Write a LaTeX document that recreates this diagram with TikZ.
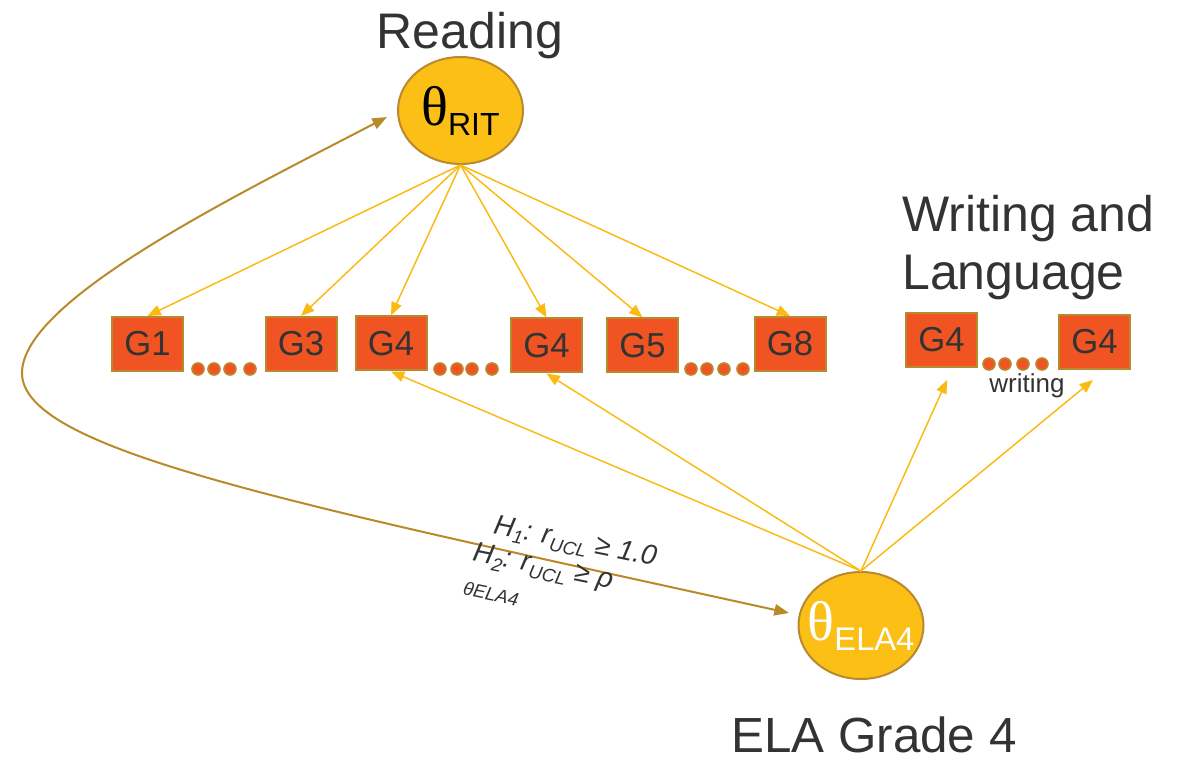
\documentclass[tikz,border=0pt]{standalone}
\usepackage{fontspec}
\setmainfont{Liberation Sans}
\newfontfamily\serf{Liberation Serif}
\usetikzlibrary{arrows.meta,shapes.geometric}
\definecolor{gold}{HTML}{FBBF16}
\definecolor{goldedge}{HTML}{B8892F}
\definecolor{boxfill}{HTML}{F05423}
\definecolor{txt}{HTML}{333333}
\definecolor{arrowyel}{HTML}{FBBA12}
\definecolor{curvecol}{HTML}{B88A2A}
\begin{document}
\begin{tikzpicture}[x=0.75pt,y=-0.75pt,
 latent/.style={ellipse, draw=goldedge, line width=1.5pt, fill=gold, minimum width=93.75pt, minimum height=80.25pt, inner sep=-9pt},
 gbox/.style={rectangle, draw=goldedge, line width=1.5pt, fill=boxfill, minimum width=53.25pt, minimum height=40.5pt, inner sep=0pt, font=\fontsize{26}{26}\selectfont, text=txt},
 yarrow/.style={draw=arrowyel, line width=1.1pt, -{Triangle[length=10pt,width=8pt]}},
 carrow/.style={draw=curvecol, line width=1.5pt, {Triangle[length=11pt,width=8.5pt]}-{Triangle[length=11pt,width=8.5pt]}},
 big/.style={font=\fontsize{37.5}{43.5}\selectfont, text=txt, inner sep=0pt},
 dot/.style={circle, draw=goldedge, fill=boxfill, line width=1.2pt, minimum size=9pt, inner sep=0pt},
 hyp/.style={text=txt, inner sep=0pt, rotate=-11.5},
]
\useasboundingbox (0,0) rectangle (1183,759);

% titles
\node[big] (tread) at (470,36) {Reading};
\node[big, align=left, anchor=west] (twrite) at (902,248) {Writing and\\Language};
\node[big, font=\fontsize{37}{43}\selectfont] (tela) at (874,735) {ELA Grade 4};

% latent variables
\node[latent] (rit) at (460.5,110.5) {\fontsize{42}{42}\selectfont\serf θ\raisebox{-7.5pt}{\fontsize{24}{24}\selectfont\rmfamily RIT}};
\node[latent, text=white] (ela) at (861,625.5) {\fontsize{42}{42}\selectfont\serf θ\raisebox{-7.5pt}{\fontsize{24.5}{24.5}\selectfont\rmfamily ELA4}};

% boxes
\node[gbox] (g1) at (147.5,344) {G1};
\node[gbox] (g3) at (301,344) {G3};
\node[gbox] (g4a) at (391,343.5) {G4};
\node[gbox] (g4b) at (546.5,345.5) {G4};
\node[gbox] (g5) at (642.5,345.5) {G5};
\node[gbox] (g8) at (790,344) {G8};
\node[gbox] (w1) at (941.5,340) {G4};
\node[gbox] (w2) at (1094.5,342) {G4};

% dots
\foreach \x in {198,214,230,250} \node[dot] at (\x,369) {};
\foreach \x in {440,457,472,492} \node[dot] at (\x,369) {};
\foreach \x in {691,707,724,743} \node[dot] at (\x,369) {};
\foreach \x in {989,1005,1023,1042} \node[dot] at (\x,364) {};
\node[text=txt, font=\fontsize{19.5}{19.5}\selectfont, inner sep=0pt] (twr) at (1027,386) {writing};

% arrows from theta RIT
\foreach \b in {g1,g3,g4a,g4b,g5,g8} \draw[yarrow] (rit.south) -- (\b.north);

% arrows from theta ELA4
\draw[yarrow] (ela.north) -- (g4a.south);
\draw[yarrow] (ela.north) -- (g4b.south);
\coordinate (w1t) at (947,380);
\coordinate (w2t) at (1093,380);
\draw[yarrow] (ela.north) -- (w1t);
\draw[yarrow] (ela.north) -- (w2t);

% curved correlation arrow
\coordinate (cela) at (789,613);
\coordinate (crit) at (387,117);
\draw[carrow] (cela) .. controls (289,503) and (22,450) .. (22,373) .. controls (22,300) and (237,195) .. (crit);

% hypothesis labels
\node[hyp, font=\fontsize{21}{21}\selectfont\itshape] (h1) at (575,543) {H\raisebox{-4.5pt}{\fontsize{14}{14}\selectfont 1}: r\raisebox{-4.5pt}{\fontsize{14}{14}\selectfont UCL} ≥ 1.0};
\node[hyp, font=\fontsize{21}{21}\selectfont\itshape] (h2) at (543,568) {H\raisebox{-4.5pt}{\fontsize{14}{14}\selectfont 2}: r\raisebox{-4.5pt}{\fontsize{14}{14}\selectfont UCL} ≥ ρ};
\node[hyp, font=\fontsize{14}{14}\selectfont\itshape] (h3) at (491,594) {θELA4};
\end{tikzpicture}
\end{document}
